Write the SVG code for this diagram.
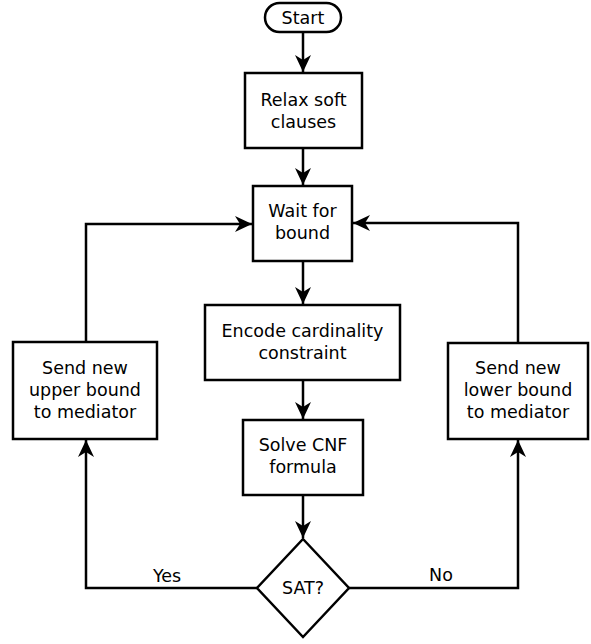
<svg xmlns="http://www.w3.org/2000/svg" width="591" height="644" viewBox="0 0 591 644">
<style>
.box{fill:#fff;stroke:#000;stroke-width:2.5}
.t{font-family:"DejaVu Sans",sans-serif;font-size:17.5px;fill:#000;text-anchor:middle}
.c{fill:none;stroke:#000;stroke-width:2.5;marker-end:url(#arr)}
</style>
<defs>
<marker id="arr" markerUnits="userSpaceOnUse" markerWidth="20" markerHeight="18" refX="17" refY="8" orient="auto">
<path d="M0,0 L17,8 L0,16 L5,8 z" fill="#000"/>
</marker>
</defs>
<g id="connectors">
<path class="c" d="M303,32 V72"/>
<path class="c" d="M303,148 V185"/>
<path class="c" d="M303,261 V304"/>
<path class="c" d="M303,380 V419"/>
<path class="c" d="M303,495 V538"/>
<path class="c" d="M257,588 H86 V440"/>
<path class="c" d="M349,588 H518 V440"/>
<path class="c" d="M86,342 V224 H252"/>
<path class="c" d="M518,343 V223 H353"/>
<text class="t" x="167" y="582">Yes</text>
<text class="t" x="441" y="581">No</text>
</g>
<g id="start">
<rect class="box" x="265" y="3" width="76" height="29" rx="14.5"/>
<text class="t" x="303" y="23.5">Start</text>
</g>
<g id="relax">
<rect class="box" x="245" y="73" width="117" height="75"/>
<text class="t" x="303.5" y="106">Relax soft</text>
<text class="t" x="303.5" y="128">clauses</text>
</g>
<g id="wait">
<rect class="box" x="253" y="186" width="99" height="75"/>
<text class="t" x="302.5" y="217">Wait for</text>
<text class="t" x="302.5" y="239">bound</text>
</g>
<g id="encode">
<rect class="box" x="205" y="305" width="195" height="75"/>
<text class="t" x="302.5" y="337">Encode cardinality</text>
<text class="t" x="302.5" y="359">constraint</text>
</g>
<g id="solve">
<rect class="box" x="243" y="420" width="120" height="75"/>
<text class="t" x="303" y="451">Solve CNF</text>
<text class="t" x="303" y="473">formula</text>
</g>
<g id="sat">
<polygon class="box" points="303,539 349,588 303,637 257,588"/>
<text class="t" x="303" y="594">SAT?</text>
</g>
<g id="upper">
<rect class="box" x="13" y="342" width="144" height="97"/>
<text class="t" x="85" y="374">Send new</text>
<text class="t" x="85" y="396">upper bound</text>
<text class="t" x="85" y="418">to mediator</text>
</g>
<g id="lower">
<rect class="box" x="448" y="343" width="140" height="96"/>
<text class="t" x="518" y="374">Send new</text>
<text class="t" x="518" y="396">lower bound</text>
<text class="t" x="518" y="418">to mediator</text>
</g>
</svg>
